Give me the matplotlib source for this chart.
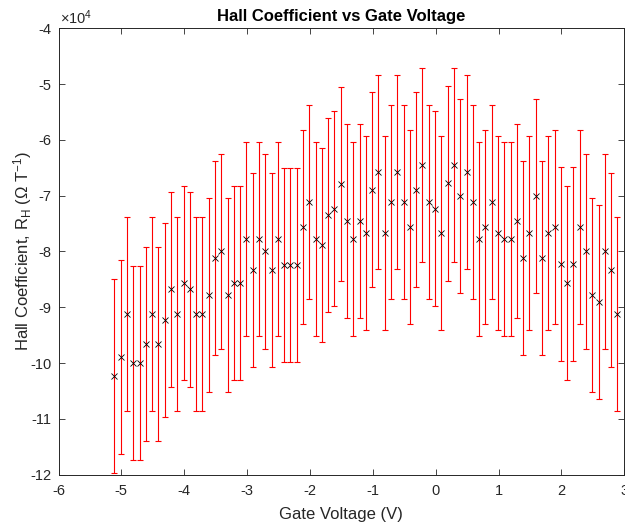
import matplotlib
matplotlib.use("Agg")
import matplotlib.pyplot as plt
from matplotlib.ticker import FuncFormatter

plt.rcParams['font.family'] = ['Liberation Sans', 'DejaVu Sans']
plt.rcParams['mathtext.fontset'] = 'custom'
plt.rcParams['mathtext.rm'] = 'Liberation Sans'
plt.rcParams['mathtext.it'] = 'Liberation Sans'

gate_voltage = [-5.11, -5.01, -4.91, -4.81, -4.71, -4.61, -4.51, -4.41, -4.31, -4.21,
                -4.11, -4.01, -3.91, -3.81, -3.71, -3.61, -3.51, -3.41, -3.31, -3.21,
                -3.11, -3.01, -2.91, -2.81, -2.71, -2.61, -2.51, -2.41, -2.31, -2.21,
                -2.11, -2.01, -1.91, -1.81, -1.71, -1.61, -1.51, -1.41, -1.31, -1.21,
                -1.11, -1.01, -0.91, -0.81, -0.71, -0.61, -0.51, -0.41, -0.31, -0.21,
                -0.11, -0.01, 0.09, 0.19, 0.29, 0.39, 0.49, 0.59, 0.69, 0.79,
                0.89, 0.99, 1.09, 1.19, 1.29, 1.39, 1.49, 1.59, 1.69, 1.79,
                1.89, 1.99, 2.09, 2.19, 2.29, 2.39, 2.49, 2.59, 2.69, 2.79, 2.89]

hall_coeff_1e4 = [-10.23, -9.89, -9.12, -10.00, -10.00, -9.66, -9.12, -9.66, -9.23, -8.68,
                  -9.12, -8.56, -8.68, -9.12, -9.12, -8.78, -8.11, -8.00, -8.78, -8.56,
                  -8.56, -7.77, -8.33, -7.77, -8.00, -8.33, -7.77, -8.24, -8.24, -8.24,
                  -7.56, -7.11, -7.77, -7.89, -7.34, -7.23, -6.79, -7.45, -7.77, -7.45,
                  -7.67, -6.89, -6.57, -7.67, -7.11, -6.57, -7.11, -7.56, -6.89, -6.45,
                  -7.11, -7.23, -7.67, -6.78, -6.45, -7.01, -6.57, -7.11, -7.78, -7.56,
                  -7.11, -7.67, -7.78, -7.78, -7.45, -8.11, -7.67, -7.01, -8.11, -7.67,
                  -7.56, -8.23, -8.56, -8.23, -7.56, -8.00, -8.78, -8.90, -8.00, -8.33, -9.12]

hall_err_1e4 = [1.74] * len(hall_coeff_1e4)

hall_coeff = [v * 1e4 for v in hall_coeff_1e4]
hall_err = [e * 1e4 for e in hall_err_1e4]

x_ticks = [-6, -5, -4, -3, -2, -1, 0, 1, 2, 3]
y_ticks = [-12e4, -11e4, -10e4, -9e4, -8e4, -7e4, -6e4, -5e4, -4e4]

text_col = '#262626'

fig = plt.figure(figsize=(6.25, 5.26), dpi=100)
ax = fig.add_axes([58.5 / 625, 1 - 474.7 / 526, (624.3 - 58.5) / 625, (474.7 - 28.3) / 526])

ax.errorbar(gate_voltage, hall_coeff, yerr=hall_err, fmt='none', ecolor='red',
            elinewidth=0.8, capsize=2.4, capthick=0.8, zorder=2)
ax.plot(gate_voltage, hall_coeff, linestyle='none', marker='x', color='black',
        markersize=5, markeredgewidth=0.6, zorder=3)

ax.set_xlim(-6, 3)
ax.set_ylim(-12e4, -4e4)
ax.set_xticks(x_ticks)
ax.set_yticks(y_ticks)
ax.xaxis.set_major_formatter(FuncFormatter(lambda v, p: f"{v:g}"))
ax.yaxis.set_major_formatter(FuncFormatter(lambda v, p: f"{v / 1e4:g}"))

ax.tick_params(direction='in', top=True, right=True, length=4, width=0.6,
               colors=text_col, labelsize=10.5)
ax.tick_params(axis='x', pad=7)
ax.tick_params(axis='y', pad=5)
for s in ax.spines.values():
    s.set_color(text_col)
    s.set_linewidth(0.7)

ax.set_xlabel('Gate Voltage (V)', fontsize=12, color=text_col, labelpad=6)
ax.set_ylabel(r'Hall Coefficient, R$_H$ ($\Omega$ T$^{-1}$)', fontsize=12,
              color=text_col, labelpad=-3)
ax.set_title('Hall Coefficient vs Gate Voltage', fontsize=12, fontweight='bold',
             color='black', pad=5)
ax.text(0.002, 1.004, r'$\times10^{4}$', transform=ax.transAxes, fontsize=10.5,
        color=text_col, ha='left', va='bottom')

fig.savefig('out.png', dpi=100)
